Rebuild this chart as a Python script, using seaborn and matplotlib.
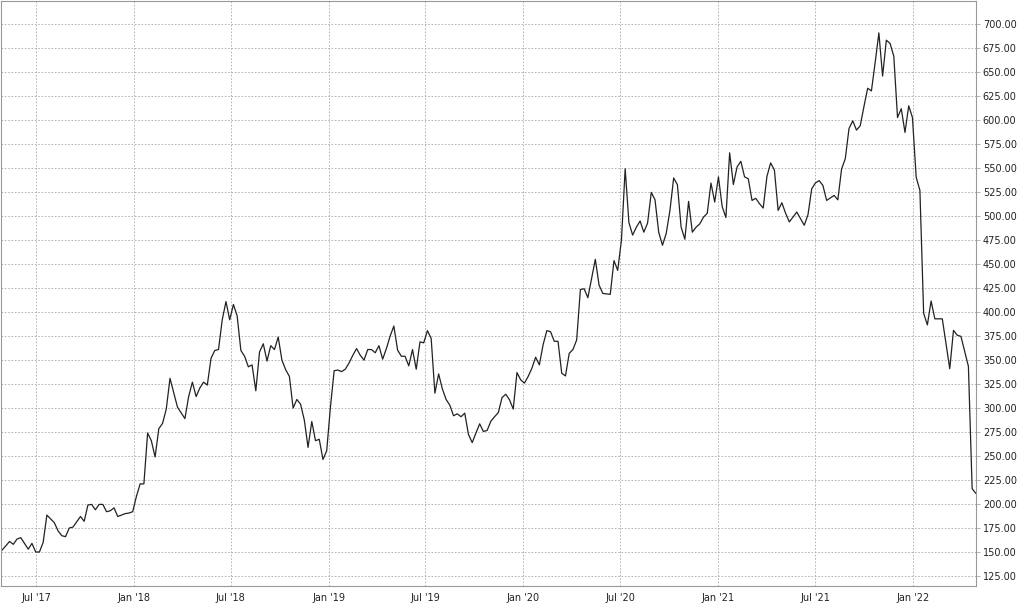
import pandas as pd
import seaborn as sns
import matplotlib.pyplot as plt
import matplotlib.dates as mdates
from matplotlib.ticker import MultipleLocator, FormatStrFormatter

# weekly closes, week index counted from the first Friday of the series
start_date = '2017-04-28'
weeks = [
    0, 2, 3, 4, 5, 7, 8, 9, 10, 11, 12, 14, 15, 16, 17, 18, 19, 21, 22, 23,
    24, 25, 26, 27, 28, 29, 30, 31, 32, 33, 34, 35, 36, 37, 38, 39, 40, 41, 42, 43,
    44, 45, 47, 49, 50, 51, 52, 53, 54, 55, 56, 57, 58, 59, 60, 61, 62, 63, 64, 65,
    66, 67, 68, 69, 70, 71, 72, 73, 74, 75, 76, 77, 78, 79, 80, 81, 82, 83, 84, 85,
    86, 87, 88, 89, 90, 91, 92, 93, 94, 95, 96, 97, 98, 99, 100, 101, 102, 103, 104, 105,
    106, 107, 108, 109, 110, 111, 112, 113, 114, 115, 116, 117, 118, 119, 120, 121, 122, 123, 124, 125,
    126, 127, 128, 129, 130, 131, 132, 133, 134, 135, 136, 137, 138, 139, 140, 141, 142, 143, 144, 145,
    146, 147, 148, 149, 150, 151, 152, 153, 154, 155, 156, 157, 159, 160, 161, 162, 163, 164, 165, 166,
    167, 168, 169, 170, 171, 172, 173, 174, 175, 176, 177, 178, 179, 180, 181, 182, 183, 184, 185, 186,
    187, 188, 189, 190, 191, 192, 193, 194, 195, 196, 197, 198, 199, 200, 201, 202, 203, 204, 205, 206,
    207, 208, 209, 210, 211, 213, 215, 216, 217, 218, 219, 220, 221, 222, 223, 224, 225, 226, 227, 228,
    229, 230, 231, 232, 233, 234, 235, 236, 237, 238, 239, 240, 241, 242, 243, 244, 245, 246, 247, 248,
    249, 250, 252, 254, 255, 256, 257, 259, 260, 261,
]
prices = [
    152, 161, 158, 163.5, 165, 153, 159, 150, 150, 160, 188.5, 180.5, 172, 167, 166, 175, 176, 187, 182, 199,
    199.6, 194, 199.6, 199.6, 192, 193, 196, 187, 188.5, 190, 190.6, 192, 208, 221, 221, 274, 266, 249, 278.5, 284,
    299, 331, 301, 289, 312, 327, 312, 321, 327, 324, 352, 360, 361, 392, 411, 392, 408, 396, 360, 354,
    343, 345, 318, 358.5, 367, 349, 365, 361, 374, 350, 340, 333, 300, 309, 304, 287.5, 259, 286, 266, 267.5,
    246.5, 255.5, 301, 339, 339.6, 338, 340.6, 347, 355, 362, 355, 350, 361, 361, 357.6, 365, 351, 362, 375, 385.5,
    360.5, 354, 354, 344, 361, 340.5, 369, 368, 380.7, 372.7, 315.5, 335.6, 320, 309, 303, 292, 294, 291, 294.7, 272.5,
    264, 274, 283.6, 275.6, 276.7, 286.3, 291, 295.3, 311, 314.4, 308.6, 299, 337, 329.4, 326, 333, 341.5, 353, 345, 366,
    380.7, 379.6, 369.6, 369.6, 336.3, 333.5, 357, 361, 371, 423.6, 424.3, 415, 455, 428.2, 419.5, 419, 418.5, 453.7, 443.5, 475,
    549.5, 493.4, 480.3, 488.5, 495, 483.3, 492.7, 524.8, 517, 483, 469.7, 482, 506, 539.8, 532.8, 488.5, 476, 515.4, 483.3, 488.5,
    492, 499, 503, 534.5, 514.7, 541, 510, 498.6, 566, 533, 551.3, 557.2, 541, 539, 516.4, 518.6, 513, 508.4, 541.5, 555.5,
    548, 506, 514, 503, 494, 504.3, 490.5, 501.5, 528.5, 534.7, 537, 532, 516.4, 519, 521.6, 517, 549, 560, 591.4, 599.4,
    589.7, 594.2, 614.2, 633.3, 630.5, 660, 691, 646, 683.4, 680, 666.8, 602.8, 612, 587.3, 615, 602.8, 540.6, 526.8, 398.8, 386.7,
    411.6, 393, 393, 341, 381, 376, 374.7, 343.5, 216, 211,
]

dates = pd.Timestamp(start_date) + pd.to_timedelta([w * 7 for w in weeks], unit='D')
df = pd.DataFrame({'date': dates, 'price': prices})

sns.set_theme(style='whitegrid')
plt.rcParams['font.family'] = ['DejaVu Sans']

fig = plt.figure(figsize=(10.24, 6.09), dpi=100)
ax = fig.add_axes([0.0005, 0.0378, 0.9525, 0.9602])
sns.lineplot(data=df, x='date', y='price', color='#222222', linewidth=0.9, ax=ax)

ax.set_xlim(pd.Timestamp('2017-04-25'), df['date'].iloc[-1])
ax.set_ylim(114.6, 724)
ax.yaxis.tick_right()
ax.yaxis.set_major_locator(MultipleLocator(25))
ax.yaxis.set_major_formatter(FormatStrFormatter('%.2f'))
ax.xaxis.set_major_locator(mdates.MonthLocator(bymonth=[1, 7]))
ax.xaxis.set_major_formatter(mdates.DateFormatter("%b '%y"))
ax.set_xlabel('')
ax.set_ylabel('')

ax.grid(True, linestyle=(0, (2, 2)), color='#aaaaaa', linewidth=0.6)
ax.tick_params(axis='both', which='major', labelsize=7, colors='#333333',
               length=3, width=0.6, pad=2, direction='out')
ax.tick_params(axis='x', colors='#aaaaaa', labelcolor='#222222')
ax.tick_params(axis='y', colors='#aaaaaa', labelcolor='#222222')
for side in ['left', 'right', 'top', 'bottom']:
    ax.spines[side].set_visible(True)
    ax.spines[side].set_color('#999999')
    ax.spines[side].set_linewidth(0.8)

fig.savefig('out.png', dpi=100, facecolor='white')
